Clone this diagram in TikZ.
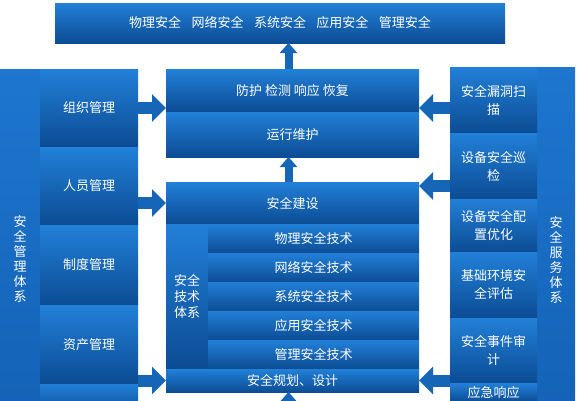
\documentclass[tikz,border=0pt]{standalone}
\usepackage{fontspec}
\newfontfamily\cjk{Noto Sans CJK SC}
\usepackage{tikz}
\usetikzlibrary{arrows.meta, positioning}

\definecolor{boxtop}{RGB}{34,128,216}
\definecolor{boxbot}{RGB}{12,76,148}
\definecolor{coltop}{RGB}{30,118,206}
\definecolor{colbot}{RGB}{18,96,180}
\definecolor{arrowblue}{RGB}{22,102,184}

\tikzset{
    box/.style={
        rectangle,
        top color=boxtop,
        bottom color=boxbot,
        text=white,
        inner sep=0pt,
        outer sep=0pt,
        align=center,
        font={\cjk\fontsize{13}{15}\selectfont}
    },
    column/.style={
        box,
        top color=coltop,
        bottom color=colbot
    },
    item/.style={
        box,
        font={\cjk\fontsize{13}{18}\selectfont}
    },
    fatarrow/.style={
        draw=arrowblue,
        line width=12pt,
        -{Triangle[length=14pt,width=27pt]}
    },
    uparrow/.style={
        draw=arrowblue,
        line width=8pt,
        -{Triangle[length=10pt,width=17pt]}
    }
}

\begin{document}
\begin{tikzpicture}[x=1pt, y=-1pt]

\fill[white] (0,0) rectangle (577,400);
\useasboundingbox (0,0) rectangle (577,400);

% Goal bar
\node[box, anchor=north west, minimum width=450pt, minimum height=40pt] (goal) at (55,3)
    {物理安全\hspace{0.8em}网络安全\hspace{0.8em}系统安全\hspace{0.8em}应用安全\hspace{0.8em}管理安全};

% Management system (left)
\node[column, anchor=north west, minimum width=40pt, minimum height=380pt] (mgmt) at (0,69)
    {安\\全\\管\\理\\体\\系};
\node[box, anchor=north west, minimum width=98pt, minimum height=78pt] (org) at (40,69) {组织管理};
\node[box, below=0pt of org, minimum width=98pt, minimum height=78pt] (staff) {人员管理};
\node[box, below=0pt of staff, minimum width=98pt, minimum height=80pt] (rules) {制度管理};
\node[box, below=0pt of rules, minimum width=98pt, minimum height=79pt] (asset) {资产管理};
\node[box, below=0pt of asset, minimum width=98pt, minimum height=30pt] (mgmt_end) {};

% Service system (right)
\node[column, anchor=north west, minimum width=38pt, minimum height=386pt] (svc) at (537,67)
    {安\\全\\服\\务\\体\\系};
\node[item, anchor=north west, minimum width=87pt, minimum height=66pt] (scan) at (450,67) {安全漏洞扫\\描};
\node[item, below=0pt of scan, minimum width=87pt, minimum height=66pt] (patrol) {设备安全巡\\检};
\node[item, below=0pt of patrol, minimum width=87pt, minimum height=53pt] (config) {设备安全配\\置优化};
\node[item, below=0pt of config, minimum width=87pt, minimum height=66pt] (envi) {基础环境安\\全评估};
\node[item, below=0pt of envi, minimum width=87pt, minimum height=65pt] (audit) {安全事件审\\计};
\node[item, below=0pt of audit, minimum width=87pt, minimum height=19pt] (emerg) {应急响应};

% Operation
\node[box, anchor=north west, minimum width=253pt, minimum height=43pt] (prot) at (166,69)
    {防护\ 检测\ 响应\ 恢复};
\node[box, below=0pt of prot, minimum width=253pt, minimum height=45pt] (run) {运行维护};

% Construction and technology
\node[box, anchor=north west, minimum width=253pt, minimum height=42pt] (build) at (166,182) {安全建设};
\node[box, anchor=north west, minimum width=42pt, minimum height=145pt,
      font={\cjk\fontsize{13}{16}\selectfont}] (tech) at (build.south west) {安全\\技术\\体系};
\node[box, anchor=north west, minimum width=211pt, minimum height=29pt] (phys) at (tech.north east) {物理安全技术};
\node[box, below=0pt of phys, minimum width=211pt, minimum height=29pt] (net) {网络安全技术};
\node[box, below=0pt of net, minimum width=211pt, minimum height=29pt] (sys) {系统安全技术};
\node[box, below=0pt of sys, minimum width=211pt, minimum height=29pt] (app) {应用安全技术};
\node[box, below=0pt of app, minimum width=211pt, minimum height=29pt] (man) {管理安全技术};
\node[box, anchor=north west, minimum width=253pt, minimum height=23pt] (plan) at (tech.south west) {安全规划、设计};

% Vertical flow
\draw[uparrow] ([xshift=-4pt]prot.north) -- ([xshift=-4pt]prot.north |- goal.south);
\draw[uparrow] ([xshift=-4pt]build.north) -- ([xshift=-4pt]build.north |- run.south);
\coordinate (feed) at ([xshift=-4pt,yshift=-14pt]plan.south);
\draw[uparrow] (feed) -- ([xshift=-4pt]plan.south);

% Arrows from management
\draw[fatarrow] (org.east) -- (org.east -| prot.west);
\draw[fatarrow] (staff.east |- build.west) -- (build.west);
\draw[fatarrow] (asset.east |- plan.west) -- (plan.west);

% Arrows from service
\draw[fatarrow] (scan.west |- org.east) -- (org.east -| prot.east);
\coordinate (build_in) at ([yshift=-4pt]build.north east);
\draw[fatarrow] (patrol.west |- build_in) -- (build_in);
\draw[fatarrow] (audit.west |- plan.east) -- (plan.east);

\end{tikzpicture}
\end{document}
